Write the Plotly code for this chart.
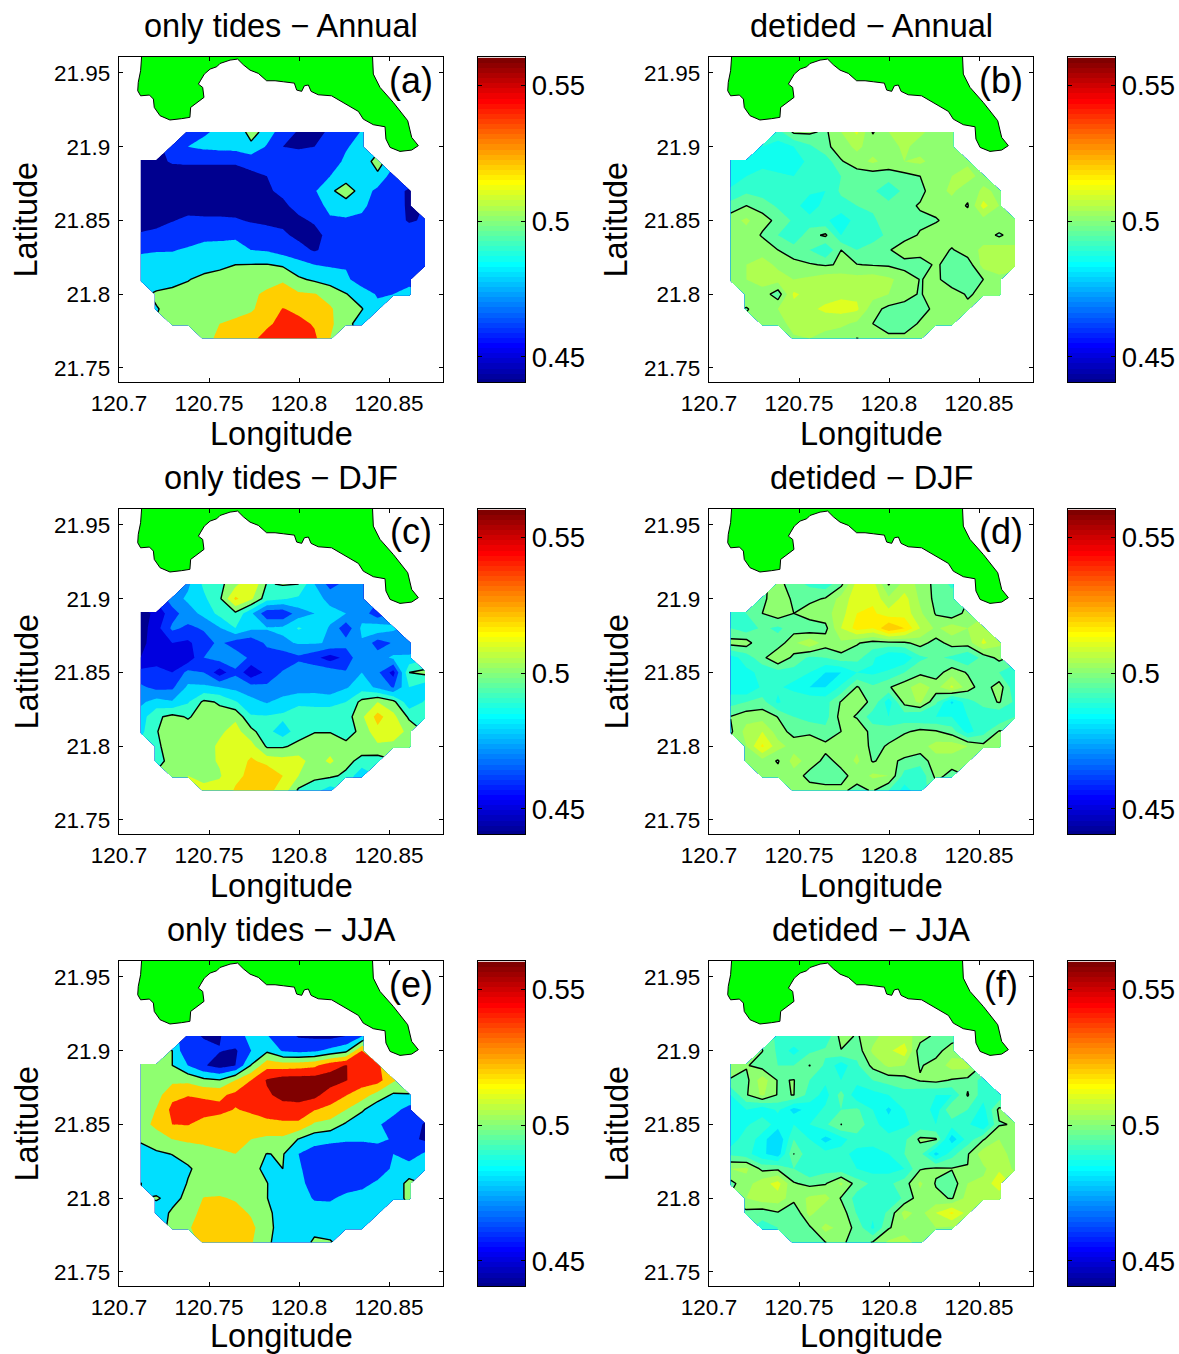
import plotly.graph_objects as go

LON = [120.712,120.7208,120.7296,120.7383,120.7471,120.7559,120.7647,120.7734,120.7822,120.791,
       120.7998,120.8086,120.8173,120.8261,120.8349,120.8437,120.8524,120.8612,120.87]
LAT = [21.91,21.90,21.89,21.88,21.87,21.86,21.85,21.84,21.83,21.82,21.81,21.80,21.79,21.78,21.77]
FIRST_COL = [3,2,0,0,0,0,0,0,0,0,0,1,1,2,4]

XTICKS = [120.7,120.75,120.8,120.85]
XLABELS = ["120.7","120.75","120.8","120.85"]
YTICKS = [21.75,21.8,21.85,21.9,21.95]
YLABELS = ["21.75","21.8","21.85","21.9","21.95"]
CTICKS = [0.45,0.5,0.55]
CLABELS = ["0.45","0.5","0.55"]

TITLES = ["only tides \u2212 Annual","detided \u2212 Annual","only tides \u2212 DJF","detided \u2212 DJF","only tides \u2212 JJA","detided \u2212 JJA"]
TAGS = ["(a)","(b)","(c)","(d)","(e)","(f)"]
STEPS = [0.02,0.005,0.01,0.005,0.02,0.005]

COAST_LON = [120.7128,120.7120,120.7107,120.7104,120.7120,120.7169,120.7191,120.7196,120.7228,120.7283,120.7348,120.7394,120.7398,
 120.7446,120.7472,120.7465,120.7441,120.7454,120.7474,120.7506,120.7543,120.7561,120.7617,120.7659,120.7691,120.7728,120.7774,
 120.7820,120.7867,120.7913,120.7974,120.7987,120.8015,120.8030,120.8052,120.8067,120.8107,120.8181,120.8228,120.8274,120.8330,
 120.8357,120.8413,120.8478,120.8483,120.8506,120.8561,120.8626,120.8663,120.8626,120.8604,120.8524,120.8450,120.8413,120.8407,120.7128]
COAST_LAT = [21.965,21.9515,21.9436,21.9379,21.9345,21.9350,21.9323,21.9266,21.9210,21.9181,21.9190,21.9199,21.9266,
 21.9312,21.9334,21.9402,21.9424,21.9451,21.9492,21.9526,21.9542,21.9564,21.9587,21.9594,21.9555,21.9519,21.9497,
 21.9447,21.9447,21.9440,21.9431,21.9384,21.9375,21.9413,21.9418,21.9375,21.9352,21.9345,21.9312,21.9278,21.9239,
 21.9187,21.9149,21.9135,21.9052,21.8995,21.8968,21.8977,21.9007,21.9063,21.9176,21.9300,21.9402,21.9492,21.965,21.965]

A = [
[.468,.478,.483,.482,.510,.490,.470,.458,.456,.462,.472,.481],
[.463,.480,.484,.486,.487,.494,.478,.460,.457,.460,.466,.479,.484],
[.450,.455,.462,.463,.463,.463,.463,.468,.470,.472,.474,.474,.475,.482,.486,.510],
[.450,.450,.450,.450,.450,.450,.450,.455,.460,.468,.472,.474,.480,.488,.490,.495,.470],
[.450,.450,.450,.450,.450,.450,.450,.450,.458,.463,.470,.478,.495,.513,.490,.475,.465,.458],
[.452,.452,.452,.452,.452,.452,.452,.453,.455,.457,.465,.477,.482,.488,.482,.476,.468,.457],
[.452,.454,.459,.464,.463,.463,.462,.458,.456,.456,.457,.462,.479,.478,.478,.472,.468,.458,.462],
[.462,.465,.470,.472,.475,.476,.477,.472,.468,.463,.456,.455,.465,.468,.470,.472,.472,.470,.470],
[.478,.479,.479,.482,.486,.486,.487,.480,.478,.471,.466,.458,.466,.468,.468,.468,.478,.470,.470],
[.485,.486,.487,.4999,.492,.496,.500,.5005,.501,.497,.487,.480,.478,.478,.470,.468,.468,.470,.472],
[.486,.490,.494,.499,.505,.507,.507,.510,.516,.519,.503,.497,.490,.484,.470,.465,.466,.475],
[.503,.505,.507,.510,.512,.514,.518,.522,.524,.523,.521,.514,.501,.490,.478,.480,.485],
[.499,.505,.507,.510,.512,.515,.518,.527,.541,.535,.525,.522,.511,.501,.485],
[.503,.505,.512,.520,.523,.527,.537,.545,.546,.538,.524,.507,.490],
[.517,.522,.527,.536,.546,.550,.550,.544,.520],
]
B = [
[.493,.501,.501,.499,.505,.511,.4995,.505,.507,.506,.503,.502],
[.490,.488,.490,.494,.4985,.503,.506,.503,.503,.506,.503,.502,.501],
[.487,.486,.487,.487,.488,.491,.492,.4995,.503,.506,.503,.505,.506,.503,.502,.504],
[.487,.490,.493,.491,.490,.491,.492,.495,.497,.497,.4975,.4985,.500,.502,.505,.507,.503],
[.491,.494,.492,.491,.491,.491,.490,.496,.497,.496,.491,.4965,.4985,.503,.506,.502,.506,.504],
[.497,.500,.4985,.494,.492,.487,.492,.493,.495,.496,.497,.4985,.5005,.502,.503,.4995,.512,.505],
[.503,.506,.5015,.499,.494,.492,.491,.487,.492,.494,.498,.498,.499,.4995,.502,.503,.503,.505,.505],
[.503,.503,.4995,.495,.491,.498,.501,.490,.493,.493,.496,.498,.5005,.503,.503,.504,.503,.499,.503],
[.502,.502,.503,.500,.4975,.495,.490,.500,.495,.497,.4995,.503,.503,.503,.4995,.503,.506,.508,.506],
[.503,.505,.507,.504,.5015,.5005,.4995,.5005,.5002,.4996,.4993,.498,.497,.501,.497,.497,.507,.509,.506],
[.503,.505,.507,.507,.505,.506,.508,.508,.507,.508,.506,.503,.4998,.501,.4975,.4975,.500,.503],
[.504,.503,.497,.511,.508,.508,.509,.509,.507,.505,.502,.4995,.503,.502,.4995,.501,.502],
[.4995,.503,.505,.508,.509,.511,.512,.511,.502,.4985,.498,.4985,.501,.502,.501],
[.504,.5015,.508,.507,.507,.506,.504,.500,.498,.498,.5005,.502,.502],
[.504,.505,.503,.502,.4999,.501,.501,.501,.501],
]
C = [
[.478,.492,.497,.507,.520,.499,.501,.500,.480,.466,.473,.475],
[.475,.482,.488,.498,.522,.512,.494,.491,.488,.484,.477,.477,.476],
[.445,.453,.466,.475,.483,.493,.498,.482,.463,.462,.475,.480,.483,.480,.476,.463],
[.445,.456,.472,.468,.471,.479,.490,.482,.481,.482,.491,.486,.479,.463,.482,.487,.482],
[.447,.455,.460,.458,.466,.472,.465,.463,.472,.478,.481,.481,.479,.474,.479,.465,.471,.472],
[.450,.453,.456,.453,.470,.475,.476,.468,.465,.463,.468,.463,.455,.463,.479,.475,.482,.482],
[.463,.465,.460,.473,.470,.454,.468,.452,.463,.471,.476,.477,.476,.471,.480,.472,.456,.500,.503],
[.472,.467,.468,.482,.482,.480,.477,.474,.472,.473,.475,.475,.474,.479,.485,.478,.469,.490,.484],
[.478,.484,.481,.489,.502,.499,.491,.483,.479,.484,.487,.488,.486,.490,.503,.510,.503,.483,.491],
[.485,.498,.503,.499,.504,.503,.508,.491,.491,.492,.498,.494,.498,.495,.508,.524,.513,.498,.490],
[.487,.4995,.505,.505,.505,.508,.514,.503,.493,.485,.495,.4995,.4995,.495,.503,.517,.516,.507],
[.498,.505,.505,.505,.512,.516,.514,.4985,.4985,.503,.505,.506,.503,.505,.508,.507,.503],
[.495,.505,.506,.507,.511,.513,.522,.516,.514,.514,.505,.512,.503,.497,.495],
[.510,.510,.507,.509,.518,.522,.530,.520,.510,.503,.502,.498,.482],
[.513,.514,.521,.524,.523,.516,.498,.493,.485],
]
D = [
[.502,.497,.494,.492,.4985,.512,.512,.4995,.507,.504,.498,.494],
[.498,.505,.4985,.4985,.5005,.507,.513,.514,.506,.512,.504,.4985,.497],
[.492,.495,.500,.503,.500,.503,.503,.508,.515,.516,.512,.513,.506,.4995,.4965,.502],
[.495,.492,.496,.494,.4975,.496,.4985,.510,.517,.515,.525,.520,.510,.504,.508,.505,.508],
[.502,.5025,.495,.497,.504,.509,.5025,.504,.5005,.498,.4985,.499,.502,.498,.502,.5025,.511,.506],
[.488,.492,.4985,.505,.4985,.494,.495,.498,.497,.491,.485,.486,.494,.496,.494,.490,.497,.5015],
[.485,.489,.491,.493,.493,.490,.485,.485,.490,.489,.491,.495,.4985,.4975,.503,.4995,.496,.495,.491],
[.487,.485,.491,.491,.488,.485,.485,.491,.5005,.496,.4995,.503,.508,.503,.511,.5025,.497,.503,.491],
[.493,.495,.497,.489,.495,.494,.493,.5005,.502,.499,.487,.502,.506,.496,.484,.493,.497,.5005,.494],
[.5002,.503,.503,.4998,.495,.493,.493,.502,.4995,.492,.490,.492,.490,.490,.490,.490,.491,.490,.495],
[.499,.507,.510,.5025,.498,.4985,.4965,.500,.504,.498,.498,.499,.5015,.5005,.4975,.488,.493,.5005],
[.505,.516,.507,.503,.505,.5015,.503,.504,.4985,.5005,.505,.503,.507,.508,.505,.5015,.504],
[.505,.503,.4995,.507,.503,.4985,.5015,.506,.4995,.502,.4985,.497,.503,.502,.5015],
[.501,.502,.503,.498,.497,.4985,.502,.506,.505,.493,.491,.5015,.4985],
[.502,.5025,.502,.501,.4985,.5005,.495,.488,.493],
]
E = [
[.468,.458,.458,.477,.482,.481,.470,.458,.456,.454,.460,.478],
[.500,.460,.468,.461,.457,.480,.496,.478,.474,.477,.485,.494,.540],
[.505,.5075,.500,.480,.462,.452,.460,.501,.533,.530,.532,.536,.552,.561,.548,.543],
[.520,.507,.515,.515,.505,.501,.520,.540,.562,.570,.570,.570,.570,.561,.550,.548,.523],
[.505,.512,.535,.539,.537,.536,.545,.552,.557,.566,.568,.566,.550,.541,.530,.512,.497,.499],
[.505,.521,.545,.550,.548,.545,.539,.543,.548,.552,.552,.541,.535,.520,.503,.485,.487,.472],
[.512,.525,.540,.541,.533,.530,.528,.531,.535,.536,.536,.517,.512,.497,.485,.483,.470,.475,.457],
[.502,.510,.520,.524,.525,.526,.527,.520,.516,.516,.499,.487,.484,.482,.482,.485,.478,.465,.457],
[.494,.497,.5005,.506,.512,.517,.520,.508,.4995,.5015,.480,.472,.470,.470,.470,.468,.480,.470,.483],
[.490,.490,.492,.498,.506,.508,.508,.505,.496,.500,.483,.469,.467,.467,.469,.470,.483,.490,.490],
[.5005,.490,.490,.501,.505,.508,.505,.505,.5005,.490,.485,.473,.474,.472,.475,.483,.490,.505],
[.502,.494,.505,.521,.522,.518,.506,.5005,.487,.485,.479,.478,.484,.487,.488,.490,.505],
[.490,.503,.513,.525,.530,.527,.518,.505,.490,.487,.485,.487,.487,.487,.488],
[.5015,.518,.528,.530,.530,.525,.507,.490,.487,.495,.493,.488,.485],
[.523,.528,.528,.522,.503,.492,.490,.503,.5015],
]
F = [
[.494,.495,.491,.491,.502,.4995,.503,.508,.507,.503,.4985,.497],
[.5002,.494,.488,.494,.496,.4998,.497,.506,.509,.513,.4965,.498,.503],
[.503,.5005,.4975,.495,.495,.5002,.494,.487,.494,.5015,.506,.505,.4995,.502,.507,.507],
[.4995,.4985,.508,.4995,.5002,.495,.491,.490,.492,.495,.497,.498,.5005,.5015,.4995,.4985,.493],
[.490,.4995,.506,.4995,.5001,.493,.488,.497,.486,.488,.490,.493,.491,.490,.490,.5005,.492,.491],
[.489,.490,.486,.491,.483,.487,.491,.495,.496,.490,.484,.490,.495,.487,.500,.495,.488,.5015],
[.485,.489,.494,.487,.490,.490,.494,.5001,.498,.492,.487,.489,.492,.490,.492,.491,.485,.4995,.5005],
[.486,.494,.487,.480,.495,.490,.483,.488,.493,.495,.492,.494,.501,.5005,.482,.492,.4995,.505,.503],
[.494,.492,.486,.482,.5001,.491,.492,.492,.488,.485,.490,.495,.497,.483,.493,.4995,.508,.507,.503],
[.505,.506,.4985,.499,.495,.490,.493,.492,.490,.488,.488,.490,.4995,.501,.5003,.5002,.504,.509,.504],
[.4985,.503,.508,.512,.5005,.4985,.4995,.506,.4975,.494,.494,.4975,.506,.4995,.497,.505,.506,.514],
[.505,.508,.508,.502,.506,.507,.4995,.493,.491,.491,.496,.503,.5015,.4995,.507,.509,.506],
[.4985,.497,.4995,.495,.507,.5001,.503,.4945,.491,.496,.507,.503,.510,.516,.508],
[.493,.495,.4965,.499,.507,.503,.4985,.489,.4995,.503,.505,.505,.504],
[.497,.4985,.4999,.5015,.4965,.5005,.506,.507,.503],
]
PANELS = [A,B,C,D,E,F]

W, H = 1179, 1354
AX_L = [119, 709]; AX_W = 324
CB_L = [478, 1068]; CB_W = 47
AX_T = [57, 509, 961]; AX_H = 325
LON_OFFSET = [52, 52, 50]
FONT = "Liberation Sans"


def jet(t):
    i = min(max(int(t * 64), 0), 63)
    u = (i + 1) / 64
    c = lambda v: int(round(255 * max(0, min(1, v))))
    return f"rgb({c(min(4*u-1.5,-4*u+4.5))},{c(min(4*u-0.5,-4*u+3.5))},{c(min(4*u+0.5,-4*u+2.5))})"


def grid(rows):
    out = []
    for r, f in zip(rows, FIRST_COL):
        line = [float("nan")] * f + list(r)
        line += [float("nan")] * (len(LON) - len(line))
        assert len(line) == len(LON), (r, len(line))
        out.append(line)
    return out


def band_scale(step):
    nc = int(round(0.12 / step)) + 1
    scale = []
    for j in range(nc + 1):
        level = 0.44 + (j - 1) * step
        scale.append([j / nc, jet((level - 0.44 + 1e-9) / 0.12)])
    return scale


fig = go.Figure()
common = dict(automargin=False, showline=True, linecolor="black", linewidth=1.3, mirror="allticks", ticks="inside", ticklen=4,
              tickcolor="black", tickwidth=1, showgrid=False, zeroline=False, tickfont=dict(family=FONT, size=22.5, color="black"))
layout = {}
ann = []


def paper(px, py):
    return px / W, 1 - py / H


for p in range(6):
    row, col = p // 2, p % 2
    ax = 2 * p + 1
    cax = 2 * p + 2
    xn, yn, cxn, cyn = f"x{ax}", f"y{ax}", f"x{cax}", f"y{cax}"
    l, t = AX_L[col], AX_T[row]
    z = grid(PANELS[p])
    step = STEPS[p]
    fig.add_trace(go.Contour(x=LON, y=LAT, z=z, xaxis=xn, yaxis=yn,
                             colorscale=band_scale(step),
                             autocontour=False, contours=dict(start=0.44, end=0.56, size=step, coloring="fill", showlines=False),
                             line=dict(width=0, smoothing=0), showscale=False, connectgaps=False, hoverinfo="skip"))
    fig.add_trace(go.Contour(x=LON, y=LAT, z=z, xaxis=xn, yaxis=yn, autocontour=False,
                             contours=dict(start=0.5, end=0.5, size=1, coloring="none"),
                             line=dict(color="black", width=1.4, smoothing=0), showscale=False, connectgaps=False, hoverinfo="skip"))
    fig.add_trace(go.Scatter(x=COAST_LON, y=COAST_LAT, xaxis=xn, yaxis=yn, mode="lines", fill="toself",
                             fillcolor="#00ff00", line=dict(color="black", width=1), hoverinfo="skip", showlegend=False))
    n = 64
    cy = [0.44 + (i + 0.5) * 0.12 / n for i in range(n)]
    fig.add_trace(go.Heatmap(x=[0], y=cy, z=[[i] for i in range(n)], xaxis=cxn, yaxis=cyn, zmin=0, zmax=n - 1,
                             colorscale=[[i / (n - 1), jet((i + 0.5) / n)] for i in range(n)],
                             showscale=False, hoverinfo="skip"))
    x0, y1 = paper(l, t)
    x1, y0 = paper(l + AX_W, t + AX_H)
    suffix = "" if ax == 1 else str(ax)
    layout[f"xaxis{suffix}"] = dict(common, domain=[x0, x1], range=[120.7, 120.88], anchor=yn, tickmode="array",
                                    tickvals=XTICKS, ticktext=XLABELS, ticklabelstandoff=1)
    layout[f"yaxis{suffix}"] = dict(common, domain=[y0, y1], range=[21.7405, 21.9608], anchor=xn, tickmode="array",
                                    tickvals=YTICKS, ticktext=YLABELS, ticklabelstandoff=3)
    cl = CB_L[col]
    cx0, _ = paper(cl, t)
    cx1, _ = paper(cl + CB_W, t)
    layout[f"xaxis{cax}"] = dict(domain=[cx0, cx1], range=[-0.5, 0.5], anchor=cyn, showticklabels=False, ticks="", automargin=False,
                                 showline=True, linecolor="black", linewidth=1.3, mirror=True, showgrid=False, zeroline=False)
    layout[f"yaxis{cax}"] = dict(common, domain=[y0, y1], range=[0.4408, 0.5603], anchor=cxn, side="right", tickmode="array",
                                 tickvals=CTICKS, ticktext=CLABELS, ticklabelstandoff=0,
                                 tickfont=dict(family=FONT, size=27.5, color="black"))
    for txt, px, py, size, angle in [
        (TITLES[p], l + AX_W / 2, t - 31, 32.5, 0),
        ("Longitude", l + AX_W / 2, t + AX_H + LON_OFFSET[row], 32.5, 0),
        ("Latitude", l - 93, t + AX_H / 2, 32.5, -90),
        (TAGS[p], l + 292, t + 23, 36, 0),
    ]:
        ax_x, ax_y = paper(px, py)
        ann.append(dict(text=txt, x=ax_x, y=ax_y, xref="paper", yref="paper", showarrow=False, xanchor="center",
                        yanchor="middle", textangle=angle, font=dict(family=FONT, size=size, color="black")))

fig.update_layout(width=W, height=H, autosize=False, margin=dict(l=0, r=0, t=0, b=0), paper_bgcolor="white",
                  plot_bgcolor="white", showlegend=False, annotations=ann, **layout)
fig.write_html("out.html", post_script="document.body.style.margin='0';", config={"displayModeBar": False})
